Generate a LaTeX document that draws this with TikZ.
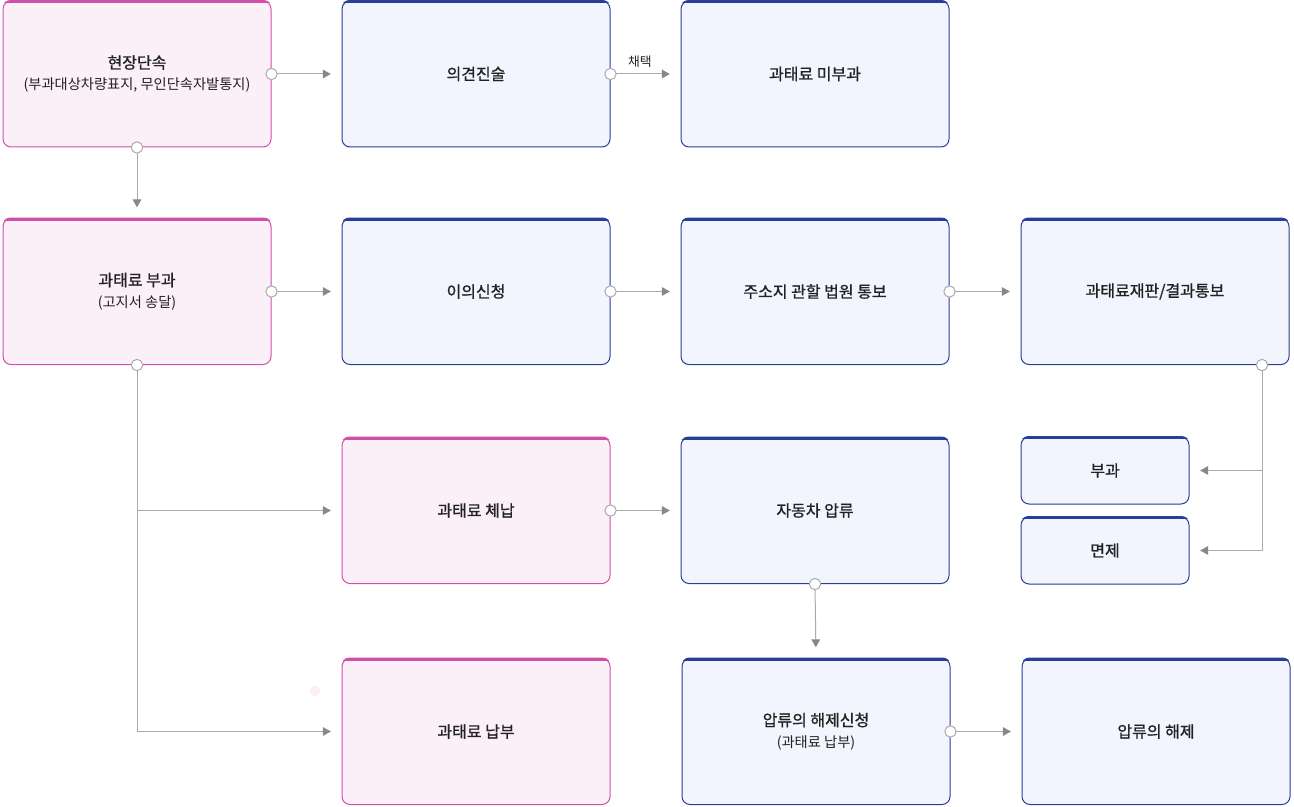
\documentclass[tikz,border=0pt]{standalone}
\usepackage{fontspec}
\setmainfont{Noto Sans CJK KR}
\newfontfamily\titlefont{Noto Sans CJK KR}[FakeBold=1]
\usetikzlibrary{arrows.meta,calc}
\definecolor{pinkline}{HTML}{D04FA8}
\definecolor{pinkfill}{HTML}{FCF0F8}
\definecolor{blueline}{HTML}{283F98}
\definecolor{bluefill}{HTML}{F2F5FE}
\definecolor{connline}{HTML}{AAAAAA}
\definecolor{conntip}{HTML}{888888}
\definecolor{txt}{HTML}{222222}
\newcommand\ttl[1]{{\titlefont\fontsize{12}{16}\selectfont #1}}
\newcommand\sub[1]{{\fontsize{10.7}{16}\selectfont #1}}
\tikzset{
  box/.style={rectangle, rounded corners=6pt, line width=0.75pt, minimum width=201pt, minimum height=109.5pt, align=center, text=txt, inner sep=0pt},
  pbox/.style={box, draw=pinkline, fill=pinkfill},
  bbox/.style={box, draw=blueline, fill=bluefill},
  smallbox/.style={minimum width=126pt, minimum height=50.25pt},
  pinktop/.style={fill=pinkline},
  bluetop/.style={fill=blueline},
  conn/.style={draw=connline, line width=0.75pt, -{Triangle[length=6pt,width=6.5pt,fill=conntip,color=conntip]}, shorten >=8pt},
  dot/.style={circle, draw=connline, fill=white, line width=0.75pt, minimum size=8.5pt, inner sep=0pt},
}
\newcommand\topline[2]{%
  \begin{scope}
    \clip[rounded corners=6.4pt] ([shift={(-0.375pt,0.375pt)}]#1.north west) rectangle ([shift={(0.375pt,-0.375pt)}]#1.south east);
    \fill[#2] ([shift={(-1pt,1pt)}]#1.north west) rectangle ([shift={(1pt,-2.1pt)}]#1.north east);
  \end{scope}}
\begin{document}
\begin{tikzpicture}[x=0.75pt,y=-0.75pt]
\useasboundingbox (0,0) rectangle (1294,806);
% nodes
\node[pbox] (A) at (137,74) {\ttl{현장단속}\\[4pt]\sub{(부과대상차량표지, 무인단속자발통지)}};
\node[bbox] (B) at (476,74) {\ttl{의견진술}};
\node[bbox] (C) at (815,74) {\ttl{과태료 미부과}};
\node[pbox] (D) at (137,291.5) {\ttl{과태료 부과}\\[4pt]\sub{(고지서 송달)}};
\node[bbox] (E) at (476,291.5) {\ttl{이의신청}};
\node[bbox] (F) at (815,291.5) {\ttl{주소지 관할 법원 통보}};
\node[bbox] (G) at (1155,291.5) {\ttl{과태료재판/결과통보}};
\node[pbox] (H) at (476,510.5) {\ttl{과태료 체납}};
\node[bbox] (I) at (815,510.5) {\ttl{자동차 압류}};
\node[bbox,smallbox] (J) at (1105,470.5) {\ttl{부과}};
\node[bbox,smallbox] (K) at (1105,550.5) {\ttl{면제}};
\node[pbox] (L) at (476,731.5) {\ttl{과태료 납부}};
\node[bbox] (M) at (816,731.5) {\ttl{압류의 해제신청}\\[4pt]\sub{(과태료 납부)}};
\node[bbox] (N) at (1156,731.5) {\ttl{압류의 해제}};
% thick tops
\topline{A}{pinktop}
\topline{D}{pinktop}
\topline{H}{pinktop}
\topline{L}{pinktop}
\foreach \n in {B,C,E,F,G,I,J,K,M,N}{\topline{\n}{bluetop}}
% stray dot
\node[circle, fill=pinkfill!70!pinkline!25, minimum size=8pt, inner sep=0pt] (stray) at (315,691) {};
% connectors
\coordinate (gout) at (1262,365);
\draw[conn] (A.east) -- (B.west);
\draw[conn] (A.south) -- (D.north);
\draw[conn] (B.east) -- node[pos=0.42, above=1.5pt, text=txt, font=\fontsize{9.6}{11}\selectfont] (lbl) {채택} (C.west);
\draw[conn] (D.east) -- (E.west);
\draw[conn] (E.east) -- (F.west);
\draw[conn] (F.east) -- (G.west);
\draw[conn] (D.south) |- (H.west);
\draw[conn] (D.south) |- (L.west);
\draw[conn] (H.east) -- (I.west);
\draw[conn] (gout) |- (J.east);
\draw[conn] (gout) |- (K.east);
\draw[conn] (I.south) -- (M.north);
\draw[conn] (M.east) -- (N.west);
% connector start dots
\node[dot] (dA1) at (A.east) {};
\node[dot] (dA2) at (A.south) {};
\node[dot] (dB) at (B.east) {};
\node[dot] (dD1) at (D.east) {};
\node[dot] (dD2) at (D.south) {};
\node[dot] (dE) at (E.east) {};
\node[dot] (dF) at (F.east) {};
\node[dot] (dG) at (gout) {};
\node[dot] (dH) at (H.east) {};
\node[dot] (dI) at (I.south) {};
\node[dot] (dM) at (M.east) {};
\end{tikzpicture}
\end{document}
